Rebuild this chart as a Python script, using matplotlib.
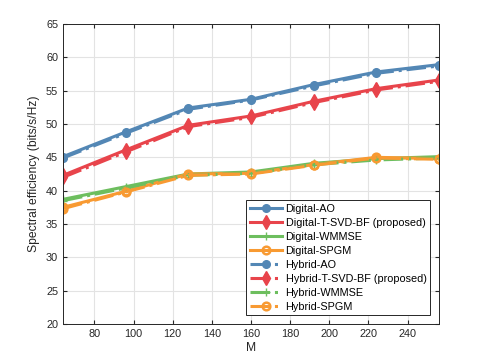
import numpy as np
import matplotlib.pyplot as plt

plt.rcParams['font.family'] = ['Liberation Sans', 'DejaVu Sans']

# Data
M = [64, 96, 128, 160, 192, 224, 256]
digital_ao = [45.1, 48.8, 52.4, 53.7, 55.9, 57.8, 58.9]
digital_tsvd = [42.3, 46.1, 49.8, 51.2, 53.4, 55.3, 56.6]
digital_wmmse = [38.7, 40.6, 42.5, 42.8, 44.1, 44.8, 45.1]
digital_spgm = [37.5, 39.9, 42.5, 42.6, 43.9, 45.0, 44.8]
hybrid_ao = [44.9, 48.6, 52.2, 53.6, 55.7, 57.6, 58.7]
hybrid_tsvd = [42.0, 45.8, 49.6, 51.0, 53.2, 55.1, 56.4]
hybrid_wmmse = [38.5, 40.4, 42.3, 42.6, 43.9, 44.6, 44.9]
hybrid_spgm = [37.3, 39.8, 42.3, 42.5, 43.8, 44.9, 44.7]

labels = ["Digital-AO", "Digital-T-SVD-BF (proposed)", "Digital-WMMSE", "Digital-SPGM",
          "Hybrid-AO", "Hybrid-T-SVD-BF (proposed)", "Hybrid-WMMSE", "Hybrid-SPGM"]

blue = "#5387b5"
red = "#e8444b"
green = "#6dbe5e"
orange = "#f89a32"

fig = plt.figure(figsize=(4.85, 3.63), dpi=100)
ax = fig.add_axes([0.130, 0.1074, 0.775, 0.8266])

lw = 2.2
ms = 5.5
series = [
    (digital_ao, blue, 'o', '-', dict(mfc=blue)),
    (digital_tsvd, red, 'd', '-', dict(mfc=red)),
    (digital_wmmse, green, '+', '-', dict()),
    (digital_spgm, orange, 'o', '-', dict(mfc='none', mew=1.8)),
    (hybrid_ao, blue, 'o', '-.', dict(mfc=blue)),
    (hybrid_tsvd, red, 'd', '-.', dict(mfc=red)),
    (hybrid_wmmse, green, '+', '-.', dict()),
    (hybrid_spgm, orange, 'o', '-.', dict(mfc='none', mew=1.8)),
]
for (y, c, mk, ls, kw), lab in zip(series, labels):
    ax.plot(M, y, color=c, marker=mk, linestyle=ls, linewidth=lw,
            markersize=ms if mk != 'd' else ms + 1.5, mec=c, label=lab, **kw)

ax.set_xlim(64, 256)
ax.set_ylim(20, 65)
ax.set_xticks(range(80, 241, 20))
ax.set_yticks(range(20, 66, 5))
ax.grid(True, color='#e3e3e3', linewidth=0.8)
ax.set_axisbelow(True)
ax.tick_params(direction='in', length=3, labelsize=7.8, colors='#262626', top=True, right=True,
               labeltop=False, labelright=False)
for s in ax.spines.values():
    s.set_color('#262626')
    s.set_linewidth(0.7)
ax.set_xlabel("M", fontsize=8.7, color='#262626', labelpad=2)
ax.set_ylabel("Spectral efficiency (bits/s/Hz)", fontsize=8.7, color='#262626')

leg = ax.legend(loc='lower right', fontsize=7.8, fancybox=False, framealpha=1,
                edgecolor='#262626', handlelength=3.0, handletextpad=0.3, numpoints=1,
                borderpad=0.35, labelspacing=0.36, borderaxespad=0.8)
leg.get_frame().set_linewidth(0.7)

plt.savefig("out.png", dpi=100)
